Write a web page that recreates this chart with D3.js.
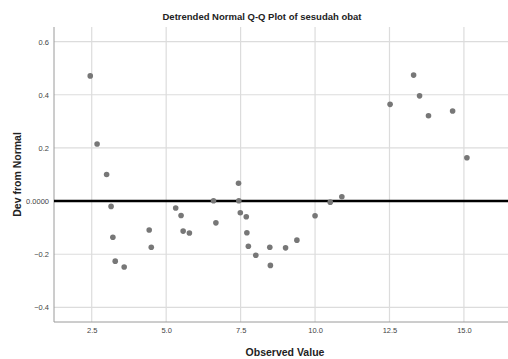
<!DOCTYPE html>
<html>
<head>
<meta charset="utf-8">
<script src="https://cdn.jsdelivr.net/npm/d3@7/dist/d3.min.js"></script>
<style>
  html, body { margin: 0; padding: 0; background: #fff; }
  svg { display: block; }
</style>
</head>
<body>
<svg id="chart" width="508" height="359"></svg>
<script>
// Observed values of "sesudah obat" and their deviation from the normal line
const observed = [2.45, 2.68, 3.00, 3.15, 3.21, 3.29, 3.59, 4.43, 4.50, 5.32,
                  5.50, 5.57, 5.78, 6.59, 6.67, 7.43, 7.44, 7.49, 7.69, 7.71,
                  7.76, 8.01, 8.48, 8.50, 9.01, 9.39, 10.00, 10.51, 10.90, 12.52,
                  13.31, 13.51, 13.81, 14.62, 15.10];
const deviation = [0.471, 0.215, 0.100, -0.020, -0.136, -0.226, -0.248, -0.109, -0.174, -0.026,
                   -0.054, -0.113, -0.120, 0.001, -0.082, 0.067, 0.001, -0.044, -0.059, -0.119,
                   -0.170, -0.204, -0.174, -0.242, -0.176, -0.147, -0.055, -0.004, 0.016, 0.364,
                   0.474, 0.396, 0.321, 0.339, 0.163];
const xTicks = [2.5, 5.0, 7.5, 10.0, 12.5, 15.0];
const yTicks = [0.6, 0.4, 0.2, 0.0, -0.2, -0.4];

const svg = d3.select("#chart");
const plotLeft = 54, plotRight = 508, plotTop = 27, plotBottom = 322;

const x = d3.scaleLinear().domain([1.233, 16.48]).range([plotLeft, plotRight]);
const y = d3.scaleLinear().domain([-0.455, 0.655]).range([plotBottom, plotTop]);

// Grid lines
svg.append("g").selectAll("line").data(xTicks).join("line")
  .attr("x1", d => x(d)).attr("x2", d => x(d))
  .attr("y1", plotTop).attr("y2", plotBottom)
  .attr("stroke", "#dcdcdc").attr("stroke-width", 1.2);
svg.append("g").selectAll("line").data(yTicks).join("line")
  .attr("x1", plotLeft).attr("x2", plotRight)
  .attr("y1", d => y(d)).attr("y2", d => y(d))
  .attr("stroke", "#dcdcdc").attr("stroke-width", 1.2);

// Axes
const xAxis = svg.append("g").attr("transform", `translate(0,${plotBottom})`)
  .call(d3.axisBottom(x).tickValues(xTicks).tickFormat(d3.format(".1f")).tickSize(0).tickPadding(6));
const yAxis = svg.append("g").attr("transform", `translate(${plotLeft},0)`)
  .call(d3.axisLeft(y).tickValues(yTicks)
    .tickFormat(d => d === 0 ? "0.0000" : d3.format(".1f")(d)).tickSize(0).tickPadding(5));
[xAxis, yAxis].forEach(g => {
  g.select(".domain").attr("stroke", "#9a9a9a").attr("stroke-width", 1);
  g.selectAll("text").attr("font-family", "Liberation Sans Narrow, Liberation Sans, Arial, sans-serif")
    .attr("font-size", 7.5).attr("fill", "#444");
});
xAxis.select(".domain").attr("d", `M${plotLeft},0H${plotRight}`);
yAxis.select(".domain").attr("d", `M0,${plotTop}V${plotBottom}`);

// Zero reference line
svg.append("line")
  .attr("x1", plotLeft).attr("x2", plotRight)
  .attr("y1", y(0)).attr("y2", y(0))
  .attr("stroke", "#000").attr("stroke-width", 2.5);

// Points
svg.append("g").selectAll("circle").data(observed).join("circle")
  .attr("cx", d => x(d))
  .attr("cy", (d, i) => y(deviation[i]))
  .attr("r", 2.8)
  .attr("fill", "#777");

// Titles
svg.append("text")
  .attr("x", 262).attr("y", 20)
  .attr("text-anchor", "middle")
  .attr("font-family", "Liberation Sans, Arial, sans-serif")
  .attr("font-weight", "bold").attr("font-size", 9.5).attr("fill", "#222")
  .text("Detrended Normal Q-Q Plot of sesudah obat");

svg.append("text")
  .attr("x", 285).attr("y", 356)
  .attr("text-anchor", "middle")
  .attr("font-family", "Liberation Sans, Arial, sans-serif")
  .attr("font-weight", "bold").attr("font-size", 10.5).attr("fill", "#222")
  .text("Observed Value");

svg.append("text")
  .attr("transform", `translate(21,${(plotTop + plotBottom) / 2}) rotate(-90)`)
  .attr("text-anchor", "middle")
  .attr("font-family", "Liberation Sans, Arial, sans-serif")
  .attr("font-weight", "bold").attr("font-size", 10.5).attr("fill", "#222")
  .text("Dev from Normal");
</script>
</body>
</html>
